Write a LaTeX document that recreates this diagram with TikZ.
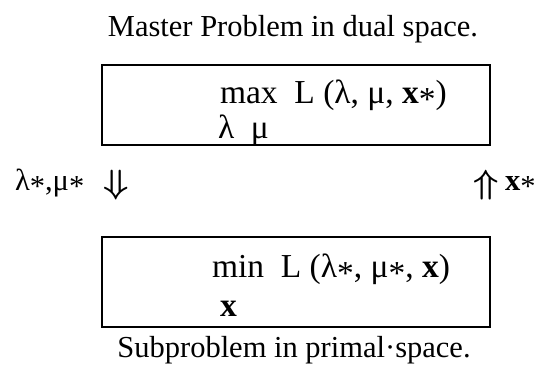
\documentclass[tikz,border=0pt]{standalone}
\usepackage{amsmath}
\usepackage{fontspec}
\setmainfont{Liberation Serif}
\newcommand{\st}{\raisebox{-0.22em}{*}}
\tikzset{
  txt/.style={inner sep=0pt, outer sep=0pt, anchor=base west, font=\fontsize{30.5}{36}\selectfont},
  boxtxt/.style={txt, font=\fontsize{33.5}{38}\selectfont},
  ctxt/.style={txt, anchor=base},
  probbox/.style={draw, line width=1.7pt, minimum width=388pt, minimum height=80pt, inner sep=0pt},
  dblarrow/.style={inner sep=0pt, font=\fontsize{30}{34}\selectfont}
}
\begin{document}
\begin{tikzpicture}[x=1pt,y=1pt]
\useasboundingbox (0,0) rectangle (541,376);
\node[ctxt] (title) at (293,340) {Master Problem in dual space.};
\node[probbox] (master) at (296,271) {};
\node[boxtxt] (maxL) at (220,273) {max\enspace L (λ, μ, \textbf{x}\st)};
\node[boxtxt] (maxsub) at (218,238) {λ\enspace μ};
\node[txt] (lamu) at (15,186) {λ\st,μ\st};
\node[dblarrow] (down) at (116,191) {\scalebox{1.45}[1.35]{$\boldsymbol{\Downarrow}$}};
\node[dblarrow] (up) at (486,191) {\scalebox{1.45}[1.35]{$\boldsymbol{\Uparrow}$}};
\node[txt] (xs) at (505,186) {\textbf{x}\st};
\node[probbox, minimum height=90pt] (sub) at (296,94) {};
\node[boxtxt] (minL) at (212,99) {min\enspace L (λ\st, μ\st, \textbf{x})};
\node[boxtxt] (minsub) at (220,60) {\textbf{x}};
\node[ctxt] (subtitle) at (294,19) {Subproblem in primal·space.};
\end{tikzpicture}
\end{document}
